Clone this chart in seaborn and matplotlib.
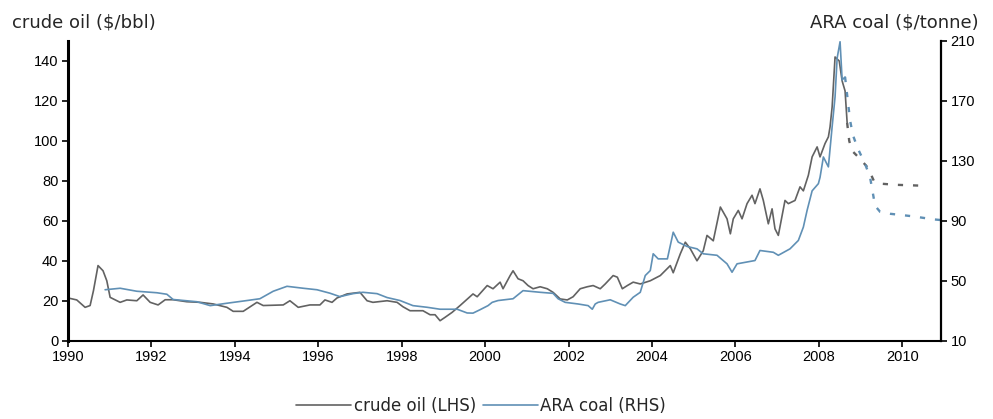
import matplotlib
matplotlib.use("Agg")
import matplotlib.pyplot as plt
import seaborn as sns
import pandas as pd
from matplotlib.lines import Line2D

# ---- data (decimal years) ----
oil_years = [1990.00, 1990.21, 1990.41, 1990.53, 1990.61, 1990.72, 1990.84, 1990.93, 1991.01, 1991.25,
             1991.41, 1991.65, 1991.80, 1991.97, 1992.16, 1992.33, 1992.52, 1992.85, 1993.17, 1993.48,
             1993.81, 1993.96, 1994.20, 1994.53, 1994.68, 1995.16, 1995.32, 1995.52, 1995.80, 1996.04,
             1996.16, 1996.33, 1996.45, 1996.69, 1997.00, 1997.17, 1997.31, 1997.65, 1997.89, 1998.03,
             1998.20, 1998.51, 1998.68, 1998.80, 1998.92, 1999.04, 1999.21, 1999.40, 1999.71, 1999.81,
             2000.05, 2000.19, 2000.36, 2000.43, 2000.60, 2000.67, 2000.79, 2000.91, 2001.03, 2001.15,
             2001.32, 2001.49, 2001.63, 2001.80, 2001.97, 2002.11, 2002.28, 2002.45, 2002.59, 2002.76,
             2002.88, 2003.07, 2003.17, 2003.29, 2003.41, 2003.55, 2003.72, 2003.96, 2004.20, 2004.44,
             2004.51, 2004.68, 2004.80, 2004.92, 2005.08, 2005.23, 2005.32, 2005.47, 2005.64, 2005.80,
             2005.88, 2005.95, 2006.07, 2006.16, 2006.28, 2006.40, 2006.47, 2006.59, 2006.67, 2006.79,
             2006.88, 2006.95, 2007.03, 2007.19, 2007.27, 2007.43, 2007.55, 2007.63, 2007.75, 2007.84,
             2007.96, 2008.03, 2008.15, 2008.23, 2008.27, 2008.32, 2008.39, 2008.49, 2008.56, 2008.63,
             2008.68]
oil_values = [21.4, 20.4, 16.7, 17.6, 25.0, 37.6, 35.0, 30.0, 21.7, 19.2,
              20.4, 20.0, 22.9, 19.2, 17.9, 20.5, 20.5, 19.5, 19.2, 18.4,
              16.7, 14.7, 14.7, 19.2, 17.6, 17.9, 20.0, 16.7, 17.9, 17.9,
              20.4, 19.2, 21.4, 23.4, 24.2, 20.0, 19.2, 20.0, 19.2, 17.0,
              15.0, 15.0, 13.0, 13.0, 10.0, 11.7, 14.2, 17.6, 23.4, 22.0,
              27.6, 26.0, 29.3, 26.0, 32.6, 35.0, 31.0, 30.0, 27.6, 26.0,
              27.0, 26.0, 24.2, 20.9, 20.4, 22.0, 26.0, 27.0, 27.6, 26.0,
              28.4, 32.6, 31.8, 26.0, 27.6, 29.3, 28.4, 30.0, 32.6, 37.6,
              34.0, 43.5, 49.3, 46.0, 40.0, 45.0, 52.7, 50.0, 66.9, 61.0,
              53.5, 61.0, 65.2, 61.0, 68.6, 72.8, 68.6, 76.0, 70.2, 58.5,
              66.0, 56.0, 52.7, 70.2, 68.6, 70.2, 77.0, 75.0, 82.8, 92.0,
              97.0, 92.0, 98.7, 102.0, 107.0, 117.0, 142.0, 140.0, 130.0, 125.0,
              109.0]

oil_fc_years = [2008.68, 2008.73, 2008.80, 2008.99, 2009.18, 2009.32, 2009.47, 2009.88, 2010.60]
oil_fc_values = [109.0, 100.0, 95.0, 91.0, 86.5, 80.0, 78.6, 78.0, 77.5]

coal_years = [1990.89, 1991.25, 1991.65, 1992.13, 1992.37, 1992.52, 1993.09, 1993.41, 1993.81, 1994.29,
              1994.60, 1994.92, 1995.25, 1995.64, 1995.97, 1996.28, 1996.52, 1996.83, 1997.07, 1997.41,
              1997.65, 1997.96, 1998.27, 1998.61, 1998.92, 1999.33, 1999.57, 1999.71, 1999.88, 2000.07,
              2000.17, 2000.31, 2000.67, 2000.91, 2001.32, 2001.63, 2001.75, 2001.92, 2002.23, 2002.47,
              2002.57, 2002.64, 2002.71, 2003.00, 2003.24, 2003.36, 2003.55, 2003.72, 2003.84, 2003.96,
              2004.03, 2004.15, 2004.37, 2004.51, 2004.63, 2004.84, 2005.08, 2005.23, 2005.56, 2005.80,
              2005.92, 2006.04, 2006.47, 2006.59, 2006.91, 2007.03, 2007.31, 2007.51, 2007.63, 2007.72,
              2007.84, 2007.99, 2008.03, 2008.11, 2008.23, 2008.32, 2008.39, 2008.44, 2008.51, 2008.56,
              2008.63]
coal_values = [44.0, 45.0, 43.0, 42.0, 41.0, 37.5, 36.0, 33.4, 35.0, 36.8,
               38.0, 43.0, 46.3, 45.0, 44.0, 41.7, 39.4, 41.4, 42.3, 41.4,
               38.8, 36.8, 33.4, 32.3, 31.0, 31.0, 28.5, 28.4, 30.7, 33.4,
               35.6, 36.8, 38.0, 43.4, 42.3, 41.6, 38.0, 35.6, 34.5, 33.4,
               31.0, 34.5, 35.6, 37.3, 34.5, 33.4, 39.0, 42.3, 53.5, 56.8,
               68.0, 64.6, 64.6, 82.4, 75.8, 72.9, 71.3, 68.0, 67.0, 61.3,
               55.7, 61.3, 63.5, 70.2, 69.0, 67.0, 71.3, 76.9, 85.8, 97.0,
               110.0, 114.8, 119.0, 132.6, 126.0, 152.8, 172.7, 198.6, 209.5, 184.0,
               186.0]

coal_fc_years = [2008.63, 2008.75, 2008.82, 2008.94, 2009.11, 2009.23, 2009.35, 2009.47, 2009.71, 2010.26, 2010.74, 2010.93]
coal_fc_values = [186.0, 157.0, 147.0, 138.0, 128.0, 119.0, 100.0, 96.0, 94.7, 93.0, 91.0, 90.5]

year_ticks = [1990, 1992, 1994, 1996, 1998, 2000, 2002, 2004, 2006, 2008, 2010]
oil_ticks = [0, 20, 40, 60, 80, 100, 120, 140]
coal_ticks = [10, 50, 90, 130, 170, 210]

OIL_C = "#626262"
COAL_C = "#6090b5"

sns.set_style("ticks")
plt.rcParams['font.family'] = ['Liberation Sans', 'DejaVu Sans']

fig = plt.figure(figsize=(9.93, 4.19), dpi=100)
ax = fig.add_axes([68/993, 1-340.7/419, (941-68)/993, (340.7-41)/419])
ax2 = ax.twinx()

oil = pd.DataFrame({"year": oil_years, "value": oil_values})
oil_fc = pd.DataFrame({"year": oil_fc_years, "value": oil_fc_values})
coal = pd.DataFrame({"year": coal_years, "value": coal_values})
coal_fc = pd.DataFrame({"year": coal_fc_years, "value": coal_fc_values})

DASH = (0, (2.2, 4.2))
sns.lineplot(data=oil, x="year", y="value", ax=ax, color=OIL_C, lw=1.2, estimator=None, sort=False)
sns.lineplot(data=oil_fc, x="year", y="value", ax=ax, color=OIL_C, lw=1.7, estimator=None, sort=False,
             linestyle=DASH)
sns.lineplot(data=coal, x="year", y="value", ax=ax2, color=COAL_C, lw=1.2, estimator=None, sort=False)
sns.lineplot(data=coal_fc, x="year", y="value", ax=ax2, color=COAL_C, lw=1.7, estimator=None, sort=False,
             linestyle=DASH)

ax.set_xlim(1990, 2010.93)
ax.set_ylim(0, 150)
ax2.set_ylim(10, 210)
ax.set_xticks(year_ticks)
ax.set_yticks(oil_ticks)
ax2.set_yticks(coal_ticks)
ax.set_xlabel("")
ax.set_ylabel("")
ax2.set_ylabel("")

for a in (ax, ax2):
    a.spines['top'].set_visible(False)
ax.spines['right'].set_visible(False)
ax2.spines['left'].set_visible(False)
ax2.spines['bottom'].set_visible(False)
ax.spines['left'].set_linewidth(2.2)
ax.spines['bottom'].set_linewidth(1.5)
ax2.spines['right'].set_linewidth(1.6)
for s in ('left', 'bottom'):
    ax.spines[s].set_color('black')
ax2.spines['right'].set_color('black')

ax.tick_params(axis='both', direction='out', length=4, width=1.2, colors='black', labelsize=10.5, pad=3)
ax2.tick_params(axis='y', direction='out', length=4, width=1.2, colors='black', labelsize=10.5, pad=3)

title_font = ['DejaVu Sans']
fig.text(12/993, 1-28/419, "crude oil ($/bbl)", ha='left', va='baseline', fontsize=13, family=title_font)
fig.text(979/993, 1-28/419, "ARA coal ($/tonne)", ha='right', va='baseline', fontsize=13, family=title_font)

handles = [Line2D([], [], color=OIL_C, lw=1.2), Line2D([], [], color=COAL_C, lw=1.2)]
fig.legend(handles, ["crude oil (LHS)", "ARA coal (RHS)"], loc='center', bbox_to_anchor=(481/993, 1-406/419),
           ncol=2, frameon=False, prop={'family': 'DejaVu Sans', 'size': 12},
           handlelength=3.3, handletextpad=0.15, columnspacing=0.4, borderpad=0, borderaxespad=0)

fig.savefig("out.png", dpi=100)
